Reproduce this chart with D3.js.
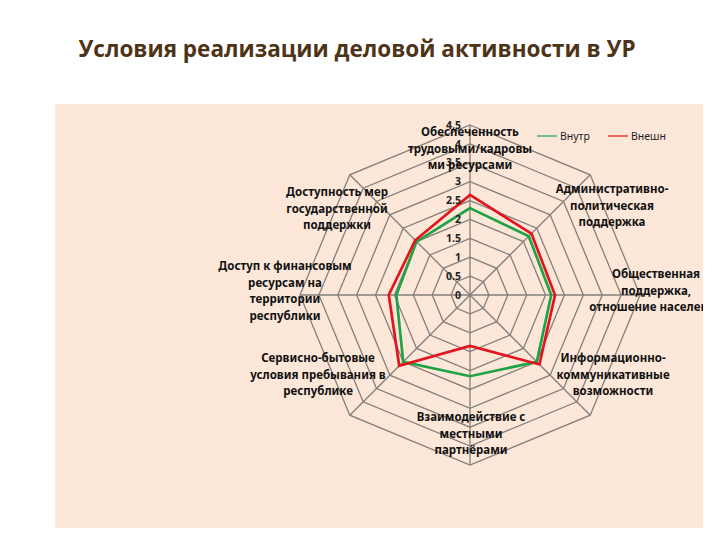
<!DOCTYPE html>
<html>
<head>
<meta charset="utf-8">
<script src="https://cdn.jsdelivr.net/npm/d3@7"></script>
<style>
  body { margin: 0; background: #fff; }
  svg { display: block; }
</style>
</head>
<body>
<div id="container"></div>
<script>
/* DATA */
const categories = [
  ["Обеспеченность", "трудовыми/кадровы", "ми ресурсами"],
  ["Административно-", "политическая", "поддержка"],
  ["Общественная", "поддержка,", "отношение населения"],
  ["Информационно-", "коммуникативные", "возможности"],
  ["Взаимодействие с", "местными", "партнёрами"],
  ["Сервисно-бытовые", "условия пребывания в", "республике"],
  ["Доступ к финансовым", "ресурсам на", "территории", "республики"],
  ["Доступность мер", "государственной", "поддержки"]
];
const seriesNames = ["Внутр", "Внешн"];
const vnutr = [2.3, 2.2, 2.15, 2.5, 2.15, 2.5, 1.95, 2.0];
const vneshn = [2.65, 2.3, 2.25, 2.6, 1.35, 2.65, 2.15, 2.05];
const tickValues = [0, 0.5, 1, 1.5, 2, 2.5, 3, 3.5, 4, 4.5];

/* CONSTANTS */
const width = 720, height = 540;
const cx = 470, cy = 295;
const colors = ["#1fa347", "#e3141c"];

// label anchor positions (relative to centre), one per category
const labelPos = [
  [0, -159], [142, -102], [186, -17], [143, 67],
  [1, 126], [-152, 67], [-185, -25], [-133, -99]
];

const svg = d3.select("#container")
  .append("svg")
    .attr("width", width)
    .attr("height", height);

svg.append("defs").append("clipPath")
    .attr("id", "plotclip")
  .append("rect")
    .attr("x", 55).attr("y", 104)
    .attr("width", 648).attr("height", 424);

/* TITLE */
svg.append("text")
    .attr("x", 357)
    .attr("y", 57)
    .attr("text-anchor", "middle")
    .style("font-family", "'Open Sans', 'Noto Sans', sans-serif")
    .style("font-size", "22.5px")
    .style("font-weight", "bold")
    .style("fill", "#4e3417")
    .text("Условия реализации деловой активности в УР");

/* PLOT AREA */
svg.append("rect")
    .attr("x", 55).attr("y", 104)
    .attr("width", 648).attr("height", 424)
    .attr("fill", "#fce7d9");

const plot = svg.append("g")
    .attr("clip-path", "url(#plotclip)");

const g = plot.append("g")
    .attr("transform", "translate(" + cx + "," + cy + ")");

/* SCALES */
const r = d3.scaleLinear()
  .domain([0, 4.5])
  .range([0, 170]);

const angle = d3.scaleLinear()
  .domain([0, categories.length])
  .range([0, 2 * Math.PI]);

const radial = d3.lineRadial()
  .angle((d, i) => angle(i))
  .radius(d => r(d))
  .curve(d3.curveLinearClosed);

/* GRID */
g.selectAll("path.grid")
  .data(tickValues.slice(1))
  .join("path")
    .attr("class", "grid")
    .attr("d", v => radial(categories.map(() => v)))
    .attr("fill", "none")
    .attr("stroke", "#857f7b")
    .attr("stroke-width", 1.3);

g.selectAll("line.spoke")
  .data(categories)
  .join("line")
    .attr("class", "spoke")
    .attr("x1", 0).attr("y1", 0)
    .attr("x2", (d, i) => r(4.5) * Math.sin(angle(i)))
    .attr("y2", (d, i) => -r(4.5) * Math.cos(angle(i)))
    .attr("stroke", "#857f7b")
    .attr("stroke-width", 1.3);

/* SERIES */
g.selectAll("path.series")
  .data([vnutr, vneshn])
  .join("path")
    .attr("class", "series")
    .attr("d", d => radial(d))
    .attr("fill", "none")
    .attr("stroke", (d, i) => colors[i])
    .attr("stroke-width", 2.7)
    .attr("stroke-linejoin", "miter");

/* TICK LABELS */
g.selectAll("text.tick")
  .data(tickValues)
  .join("text")
    .attr("class", "tick")
    .attr("x", -9)
    .attr("y", v => -r(v))
    .attr("dy", "0.35em")
    .attr("text-anchor", "end")
    .style("font-family", "'Noto Sans', sans-serif")
    .style("font-size", "10.5px")
    .style("font-weight", "bold")
    .style("fill", "#222")
    .text(v => v);

/* CATEGORY LABELS */
const labels = g.selectAll("text.cat")
  .data(categories)
  .join("text")
    .attr("class", "cat")
    .attr("text-anchor", "middle")
    .attr("transform", (d, i) => "translate(" + labelPos[i][0] + "," + labelPos[i][1] + ")")
    .style("font-family", "'Noto Sans', sans-serif")
    .style("font-size", "11.5px")
    .style("font-weight", "bold")
    .style("fill", "#111");

labels.selectAll("tspan")
  .data(d => d)
  .join("tspan")
    .attr("x", 0)
    .attr("y", (d, i) => i * 16.7)
    .text(d => d);

/* LEGEND */
const legend = svg.selectAll("g.legend")
  .data(seriesNames)
  .join("g")
    .attr("class", "legend")
    .attr("transform", (d, i) => "translate(" + (537 + i * 71) + ",136)");

legend.append("line")
    .attr("x1", 0).attr("x2", 20)
    .attr("stroke", (d, i) => colors[i])
    .attr("stroke-width", 1.2);

legend.append("text")
    .attr("x", 23)
    .attr("dy", "0.35em")
    .style("font-family", "'Noto Sans', sans-serif")
    .style("font-size", "10.5px")
    .style("fill", "#222")
    .text(d => d);
</script>
</body>
</html>
